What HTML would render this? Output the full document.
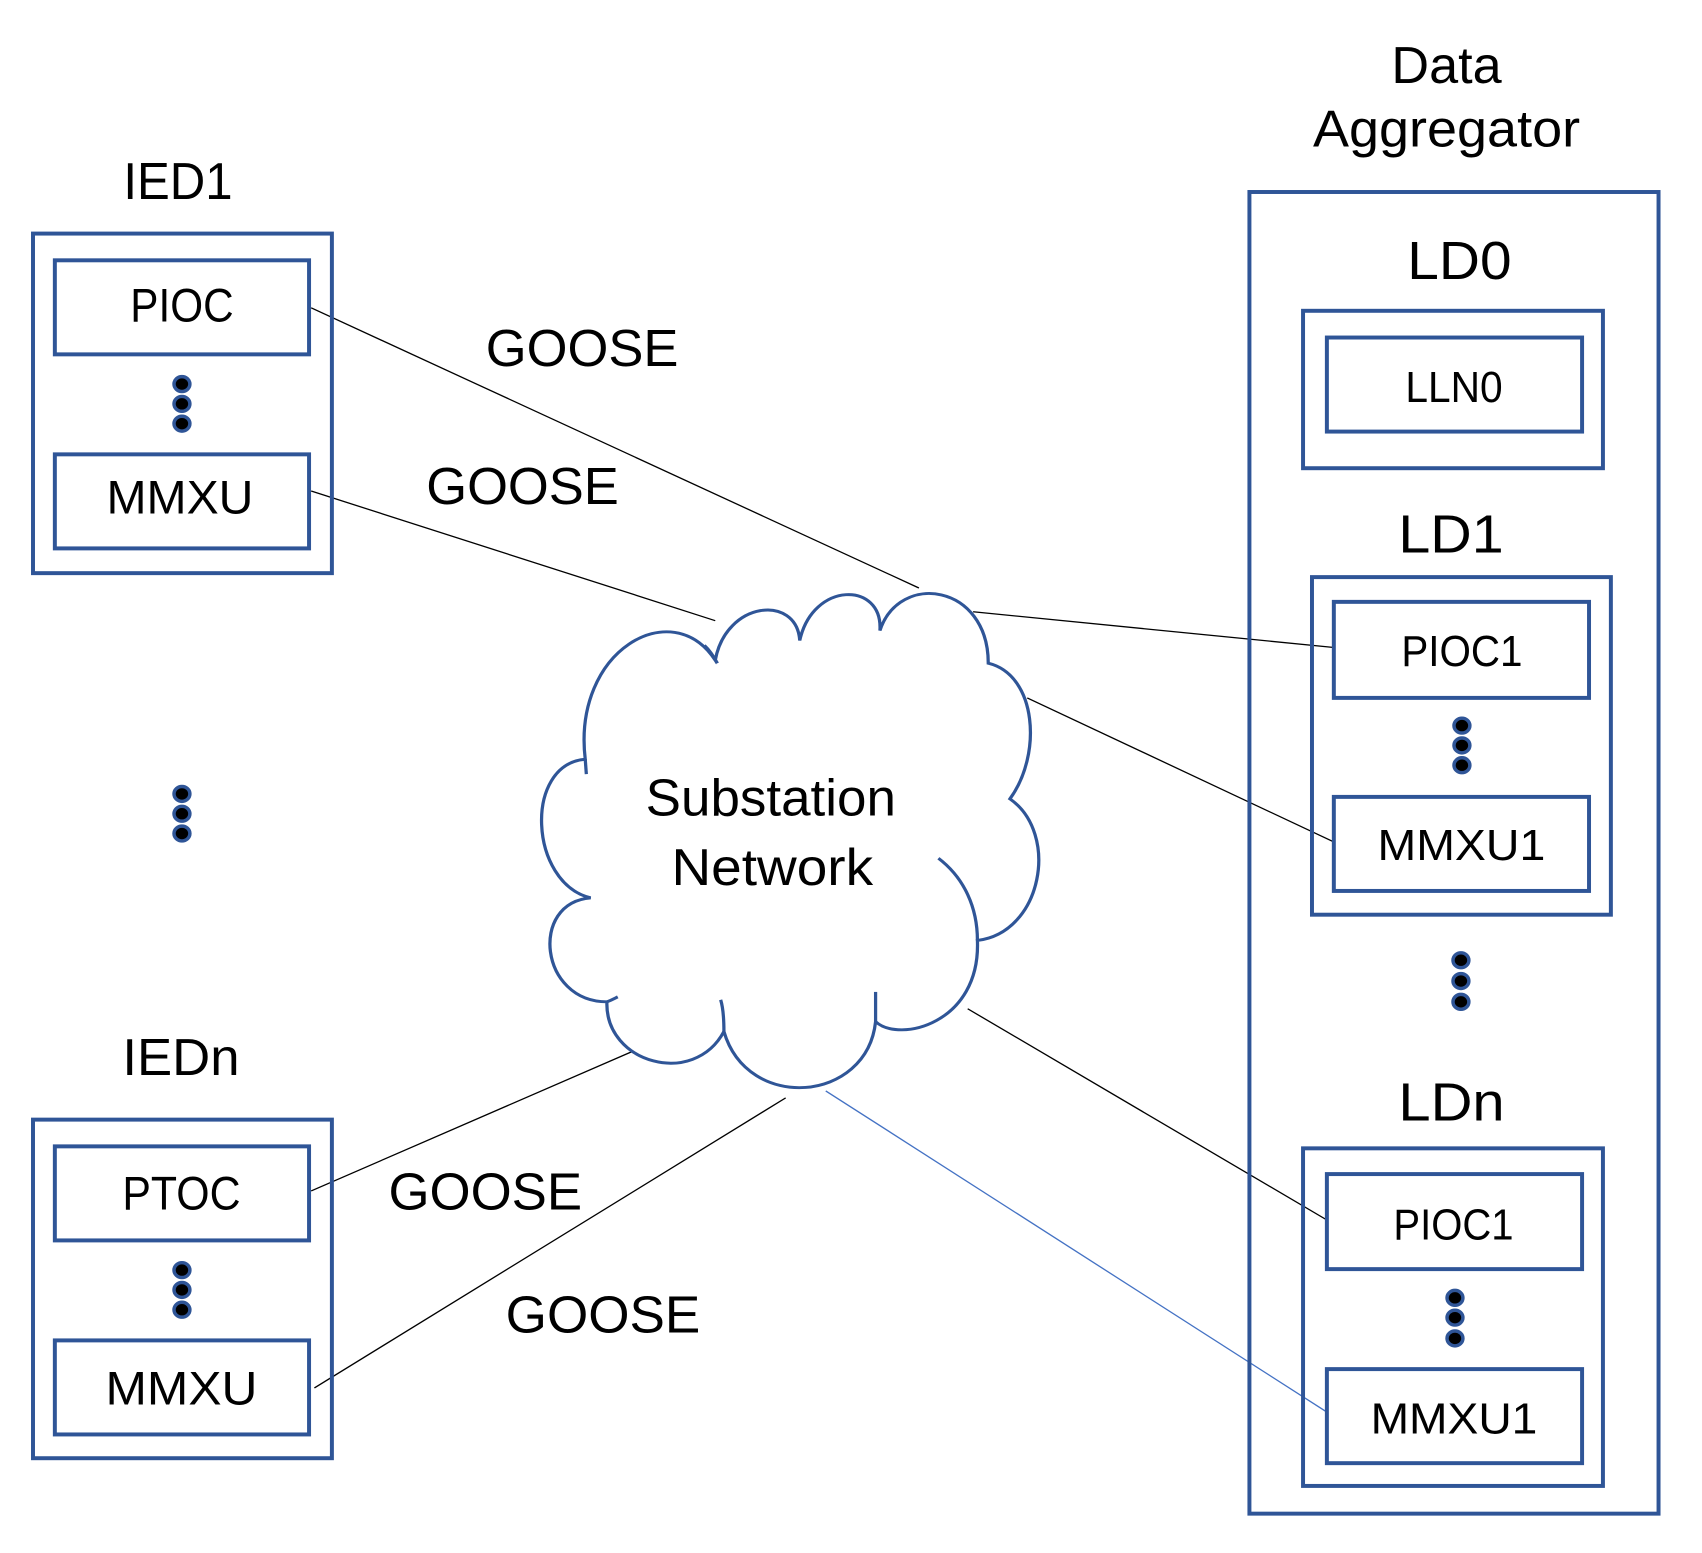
<!DOCTYPE html>
<html><head><meta charset="utf-8"><style>
html,body{margin:0;padding:0;background:#fff}
svg{display:block}
text{font-family:"Liberation Sans",sans-serif;fill:#000}
</style></head><body>
<svg width="1702" height="1553" viewBox="0 0 1702 1553" xmlns="http://www.w3.org/2000/svg">
<rect width="1702" height="1553" fill="#fff"/>
<g transform="translate(33,192) scale(0.993,0.99) translate(-33,-192)">
<g transform="scale(1.091,1)" fill="none" stroke-linecap="butt">
  <g stroke="#000" stroke-width="1.3">
    <line x1="287" y1="309" x2="848" y2="592"/>
    <line x1="287" y1="494" x2="660" y2="625"/>
    <line x1="898" y1="616" x2="1230" y2="652"/>
    <line x1="948" y1="703" x2="1230" y2="848"/>
    <line x1="893" y1="1017" x2="1224" y2="1230"/>
    <line x1="588" y1="1058" x2="287" y2="1201"/>
    <line x1="725" y1="1107" x2="290" y2="1400"/>
  </g>
  <line x1="762" y1="1100" x2="1224" y2="1424" stroke="#4472c4" stroke-width="1.3"/>
  <path d="M 545,905 C 488,890 483,770 540,765 C 528,655 620,598 660,665 C 670,605 735,598 738,645 C 750,585 815,585 812,635 C 830,575 912,588 912,668 C 957,680 962,760 932,805 C 978,840 962,940 902,948 C 905,1032 830,1052 808,1030 C 800,1112 690,1122 668,1040 C 640,1097 558,1072 560,1010 C 498,1010 488,910 545,905 Z" fill="#fff" stroke="#2f5597" stroke-width="3"/>
  <g stroke="#2f5597" stroke-width="3">
    <path d="M 540,765 L 541,780"/>
    <path d="M 650,650 C 655,655 658,660 662,668"/>
    <path d="M 866,865 C 890,885 902,915 902,948"/>
    <path d="M 808,1000 L 808,1030"/>
    <path d="M 668,1040 C 668,1025 667,1015 665,1008"/>
    <path d="M 560,1010 C 565,1008 568,1006 570,1005"/>
  </g>
</g>
<g fill="none" stroke="#2f5597" stroke-width="4">
  <rect x="33" y="234" width="301" height="343"/>
  <rect x="55" y="261" width="256" height="95"/>
  <rect x="55" y="457" width="256" height="95"/>
  <rect x="33" y="1129" width="301" height="342"/>
  <rect x="55" y="1156" width="256" height="95"/>
  <rect x="55" y="1352" width="256" height="95"/>
  <rect x="1258" y="192" width="412" height="1335"/>
  <rect x="1312" y="312" width="302" height="159"/>
  <rect x="1336" y="339" width="257" height="95"/>
  <rect x="1321" y="581" width="301" height="341"/>
  <rect x="1343" y="606" width="257" height="97"/>
  <rect x="1343" y="803" width="257" height="95"/>
  <rect x="1312" y="1158" width="302" height="341"/>
  <rect x="1336" y="1184" width="257" height="96"/>
  <rect x="1336" y="1381" width="257" height="95"/>
</g>
<g fill="#000" stroke="#2f5597" stroke-width="3.5">
  <ellipse cx="183" cy="386" rx="8" ry="7.5"/><ellipse cx="183" cy="406" rx="8" ry="7.5"/><ellipse cx="183" cy="426" rx="8" ry="7.5"/>
  <ellipse cx="183" cy="800" rx="8" ry="7.5"/><ellipse cx="183" cy="820" rx="8" ry="7.5"/><ellipse cx="183" cy="840" rx="8" ry="7.5"/>
  <ellipse cx="183" cy="1281" rx="8" ry="7.5"/><ellipse cx="183" cy="1301" rx="8" ry="7.5"/><ellipse cx="183" cy="1321" rx="8" ry="7.5"/>
  <ellipse cx="1472" cy="731" rx="8" ry="7.5"/><ellipse cx="1472" cy="751" rx="8" ry="7.5"/><ellipse cx="1472" cy="771" rx="8" ry="7.5"/>
  <ellipse cx="1471" cy="968" rx="8" ry="7.5"/><ellipse cx="1471" cy="989" rx="8" ry="7.5"/><ellipse cx="1471" cy="1010" rx="8" ry="7.5"/>
  <ellipse cx="1465" cy="1309" rx="8" ry="7.5"/><ellipse cx="1465" cy="1329" rx="8" ry="7.5"/><ellipse cx="1465" cy="1350" rx="8" ry="7.5"/>
</g>
<g font-size="52">
  <text x="1401" y="82" textLength="111" lengthAdjust="spacingAndGlyphs">Data</text>
  <text x="1322" y="146" textLength="269" lengthAdjust="spacingAndGlyphs">Aggregator</text>
  <text x="124" y="199" textLength="110" lengthAdjust="spacingAndGlyphs">IED1</text>
  <text x="123" y="1084" textLength="118" lengthAdjust="spacingAndGlyphs">IEDn</text>
  <text x="489" y="368" textLength="194" lengthAdjust="spacingAndGlyphs">GOOSE</text>
  <text x="429" y="507" textLength="194" lengthAdjust="spacingAndGlyphs">GOOSE</text>
  <text x="391" y="1220" textLength="195" lengthAdjust="spacingAndGlyphs">GOOSE</text>
  <text x="509" y="1344" textLength="196" lengthAdjust="spacingAndGlyphs">GOOSE</text>
  <text x="1417" y="280" font-size="54" textLength="105" lengthAdjust="spacingAndGlyphs">LD0</text>
  <text x="1408" y="556" font-size="54" textLength="106" lengthAdjust="spacingAndGlyphs">LD1</text>
  <text x="1408" y="1130" font-size="54" textLength="107" lengthAdjust="spacingAndGlyphs">LDn</text>
</g>
<g font-size="48">
  <text x="131" y="323" textLength="104" lengthAdjust="spacingAndGlyphs">PIOC</text>
  <text x="107" y="517" textLength="148" lengthAdjust="spacingAndGlyphs">MMXU</text>
  <text x="123" y="1220" textLength="119" lengthAdjust="spacingAndGlyphs">PTOC</text>
  <text x="106" y="1417" textLength="153" lengthAdjust="spacingAndGlyphs">MMXU</text>
  <text x="1415" y="404" font-size="44" textLength="98" lengthAdjust="spacingAndGlyphs">LLN0</text>
  <text x="1411" y="671" font-size="44" textLength="122" lengthAdjust="spacingAndGlyphs">PIOC1</text>
  <text x="1387" y="867" font-size="44" textLength="169" lengthAdjust="spacingAndGlyphs">MMXU1</text>
  <text x="1403" y="1250" font-size="44" textLength="121" lengthAdjust="spacingAndGlyphs">PIOC1</text>
  <text x="1380" y="1446" font-size="44" textLength="168" lengthAdjust="spacingAndGlyphs">MMXU1</text>
  <text x="650" y="822" font-size="52" textLength="252" lengthAdjust="spacingAndGlyphs">Substation</text>
  <text x="676" y="892" font-size="52" textLength="203" lengthAdjust="spacingAndGlyphs">Network</text>
</g>
</g>
</svg>
</body></html>
